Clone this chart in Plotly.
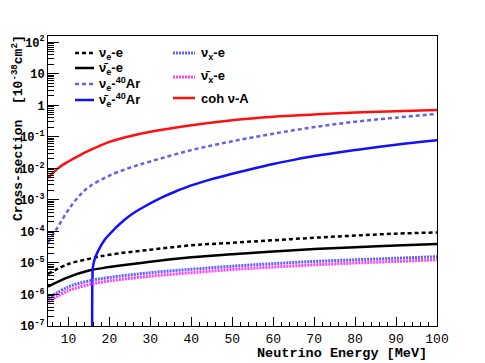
import plotly.graph_objects as go

# ---- data ----
E = [5, 7.5, 10, 12.5, 15, 20, 25, 30, 40, 50, 60, 70, 80, 90, 100]
coh_nuA = [5.0e-3, 0.0102, 0.0166, 0.0251, 0.0363, 0.0692, 0.105, 0.145, 0.234, 0.339, 0.437, 0.513, 0.589, 0.646, 0.708]
nue_Ar = [4.47e-5, 1.45e-4, 4.9e-4, 1.29e-3, 2.57e-3, 5.89e-3, 0.0105, 0.0166, 0.038, 0.0724, 0.126, 0.204, 0.302, 0.407, 0.537]

E_bar = [15.8, 15.85, 16.0, 16.4, 17.15, 18.8, 21.2, 23.7, 26.1, 28.6, 31.0, 33.5, 36, 40, 45, 50, 55,
         60, 65, 70, 75, 80, 90, 100]
nuebar_Ar_log = [-8, -5.5, -5.1, -4.88, -4.64, -4.27, -3.93, -3.63, -3.40, -3.21, -3.04, -2.88, -2.74, -2.54,
                 -2.34, -2.17, -2.01, -1.86, -1.73, -1.61, -1.51, -1.42, -1.25, -1.11]
nuebar_Ar = [10 ** v for v in nuebar_Ar_log]

E_e = [5, 10, 15, 20, 30, 40, 50, 60, 70, 80, 90, 100]
nue_e = [4.5e-6, 9.3e-6, 1.35e-5, 1.82e-5, 2.63e-5, 3.63e-5, 4.37e-5, 5.25e-5, 6.3e-5, 7.4e-5, 8.5e-5, 9.3e-5]
nuebar_e = [1.78e-6, 3.55e-6, 5.75e-6, 7.4e-6, 1.1e-5, 1.51e-5, 1.9e-5, 2.29e-5, 2.75e-5, 3.16e-5, 3.55e-5, 3.98e-5]
nux_e = [7.6e-7, 1.74e-6, 2.69e-6, 3.47e-6, 4.9e-6, 6.3e-6, 7.9e-6, 9.5e-6, 1.12e-5, 1.26e-5, 1.41e-5, 1.58e-5]
nuxbar_e = [5.9e-7, 1.32e-6, 2.04e-6, 2.69e-6, 3.8e-6, 4.9e-6, 6.2e-6, 7.4e-6, 8.7e-6, 1.0e-5, 1.12e-5, 1.26e-5]

x_ticks = [10, 20, 30, 40, 50, 60, 70, 80, 90, 100]
y_tick_exp = [-7, -6, -5, -4, -3, -2, -1, 0, 1, 2]
y_tick_text = ["10<sup>-7</sup>", "10<sup>-6</sup>", "10<sup>-5</sup>", "10<sup>-4</sup>", "10<sup>-3</sup>",
               "10<sup>-2</sup>", "10<sup>-1</sup>", "1", "10", "10<sup>2</sup>"]

# ---- styles ----
series = [
    dict(name="ν<sub>e</sub>-e", x=E_e, y=nue_e, color="black", dash="4px,3px", width=2.5),
    dict(name="ν̄<sub>e</sub>-e", x=E_e, y=nuebar_e, color="black", dash="solid", width=2.5),
    dict(name="ν<sub>e</sub>-<sup>40</sup>Ar", x=E, y=nue_Ar, color="#6262ee", dash="4px,3px", width=2.5),
    dict(name="ν̄<sub>e</sub>-<sup>40</sup>Ar", x=E_bar, y=nuebar_Ar, color="#1010ff", dash="solid", width=2.5),
    dict(name="ν<sub>x</sub>-e", x=E_e, y=nux_e, color="#6060ff", dash="2px,1px", width=3),
    dict(name="ν̄<sub>x</sub>-e", x=E_e, y=nuxbar_e, color="#ff40ff", dash="2px,1px", width=3),
    dict(name="coh ν-A", x=E, y=coh_nuA, color="#ff1010", dash="solid", width=2.5),
]

fig = go.Figure()
for s in series:
    fig.add_trace(go.Scatter(x=s["x"], y=s["y"], mode="lines", name=s["name"], showlegend=False,
                             hoverinfo="skip",
                             line=dict(color=s["color"], dash=s["dash"], width=s["width"], shape="spline",
                                       smoothing=1.0)))

W, H = 485, 363
L, R, T, B = 48, 48, 36, 37
pw, ph = W - L - R, H - T - B

def px_x(p):
    return (p - L) / pw

def px_y(p):
    return (H - B - p) / ph

# manual legend (positions in pixels)
leg_pos = [(75, 94, 97, 53), (75, 94, 97, 68), (75, 94, 97, 84), (75, 94, 97, 100),
           (173, 195, 199, 53), (173, 195, 199, 77), (173, 195, 199, 98)]
shapes = []
annotations = []
for s, (x0, x1, xt, yy) in zip(series, leg_pos):
    shapes.append(dict(type="line", xref="paper", yref="paper", x0=px_x(x0), x1=px_x(x1),
                       y0=px_y(yy), y1=px_y(yy),
                       line=dict(color=s["color"], dash=s["dash"], width=s["width"])))
    annotations.append(dict(xref="paper", yref="paper", x=px_x(xt), y=px_y(yy), xanchor="left", yanchor="middle",
                            text="<b>" + s["name"] + "</b>", showarrow=False,
                            font=dict(family="Liberation Sans, Arial", size=13, color="black")))

annotations.append(dict(xref="paper", yref="paper", x=px_x(429), y=px_y(353), xanchor="right", yanchor="middle",
                        text="<b>Neutrino Energy [MeV]</b>", showarrow=False,
                        font=dict(family="Liberation Mono, Courier New", size=13.5, color="black")))
annotations.append(dict(xref="paper", yref="paper", x=px_x(17), y=px_y(33), xanchor="center", yanchor="top",
                        textangle=-90, text="<b>Cross-section  [10<sup>-38</sup>cm<sup>2</sup>]</b>", showarrow=False,
                        font=dict(family="Liberation Mono, Courier New", size=13, color="black")))

minor_y = [m * 10 ** k for k in range(-7, 3) for m in range(2, 10) if m * 10 ** k < 160]

fig.update_layout(
    width=W, height=H,
    margin=dict(l=L, r=R, t=T, b=B),
    paper_bgcolor="white", plot_bgcolor="white",
    shapes=shapes, annotations=annotations,
    xaxis=dict(range=[5, 100], tickvals=x_ticks, ticks="inside", ticklen=9, tickcolor="black", automargin=False,
               showgrid=False, zeroline=False, showline=True, linecolor="black", linewidth=1, mirror=True,
               tickfont=dict(family="Liberation Mono, Courier New", size=13, color="black"),
               tickprefix="<b>", ticksuffix="</b>",
               minor=dict(dtick=2, tick0=0, ticks="inside", ticklen=4.5, tickcolor="black", showgrid=False)),
    yaxis=dict(type="log", range=[-7, 2.2], tickvals=[10 ** k for k in y_tick_exp],
               ticktext=["<b>" + t + "</b>" for t in y_tick_text], automargin=False,
               ticks="inside", ticklen=11, tickcolor="black",
               showgrid=False, zeroline=False, showline=True, linecolor="black", linewidth=1, mirror=True,
               tickfont=dict(family="Liberation Mono, Courier New", size=12, color="black"),
               minor=dict(tickmode="array", tickvals=minor_y, ticks="inside", ticklen=6, tickcolor="black",
                          showgrid=False)),
)

fig.write_html("out.html", post_script="document.body.style.margin='0';",
               config={"displayModeBar": False})
